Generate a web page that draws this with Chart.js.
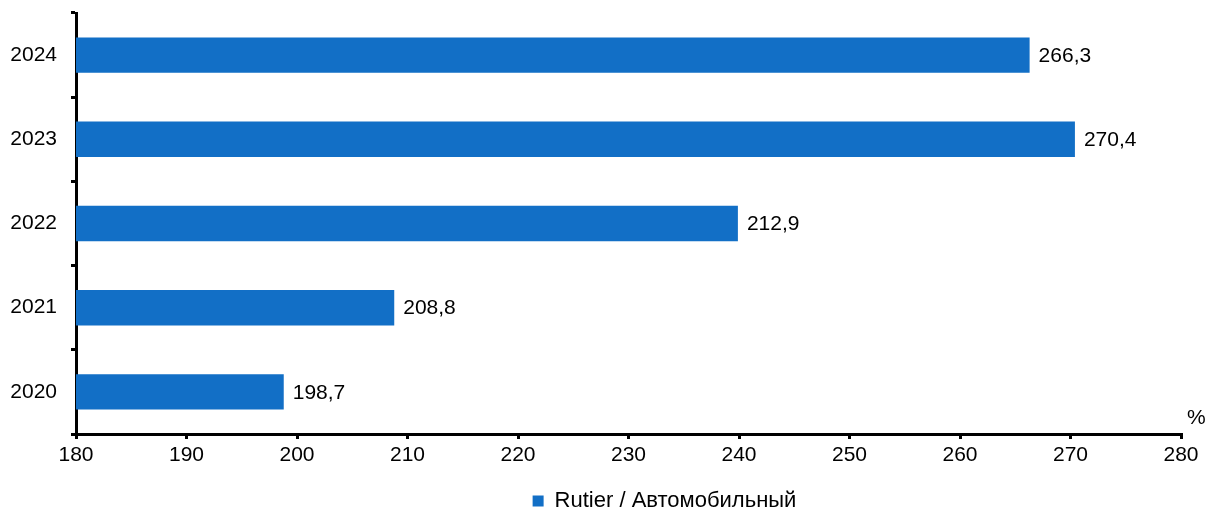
<!DOCTYPE html>
<html>
<head>
<meta charset="utf-8">
<script src="https://cdn.jsdelivr.net/npm/chart.js@4/dist/chart.umd.min.js"></script>
<style>
  html, body { margin: 0; padding: 0; background: #fff; }
  canvas { display: block; }
</style>
</head>
<body>
<canvas id="chart" width="1212" height="514" style="width:1212px;height:514px"></canvas>
<script>
// data
var years = ['2020', '2021', '2022', '2023', '2024'];
var barValues = [198.8, 208.8, 239.9, 270.4, 266.3];
var barLabels = ['198,7', '208,8', '212,9', '270,4', '266,3'];
var xTicks = [180, 190, 200, 210, 220, 230, 240, 250, 260, 270, 280];
var seriesName = 'Rutier / Автомобильный';
var unitLabel = '%';

var FONT = "'Liberation Sans', Arial, sans-serif";
var FSIZE = 21;
var BLUE = '#126fc6';

// value labels at the end of each bar + the % sign
var labelsPlugin = {
    id: 'barLabels',
    beforeDraw: function(chart) {
        // legend sits a bit right of centre in the original
        chart.legend.left += 74;
        chart.legend.right += 74;
    },
    afterDatasetsDraw: function(chart) {
        var ctx = chart.ctx;
        var meta = chart.getDatasetMeta(0);
        ctx.save();
        ctx.font = FSIZE + 'px ' + FONT;
        ctx.fillStyle = '#000';
        ctx.textBaseline = 'middle';
        ctx.textAlign = 'left';
        meta.data.forEach(function(bar, i) {
            ctx.fillText(barLabels[i], bar.x + 9, bar.y + 1);
        });
        ctx.fillText(unitLabel, chart.chartArea.right + 6, chart.chartArea.bottom - 16);
        ctx.restore();
    }
};

var ctx = document.getElementById('chart').getContext('2d');
var chart = new Chart(ctx, {
    type: 'bar',
    data: {
        labels: years,
        datasets: [{
            label: seriesName,
            data: barValues,
            backgroundColor: BLUE,
            borderWidth: 0,
            barPercentage: 0.42,
            categoryPercentage: 1.0
        }]
    },
    options: {
        indexAxis: 'y',
        responsive: false,
        animation: false,
        devicePixelRatio: 1,
        layout: { padding: { top: 13, right: 31, left: 0, bottom: -8 } },
        plugins: {
            legend: {
                display: true,
                position: 'bottom',
                labels: {
                    font: { family: FONT, size: 22 },
                    color: '#000',
                    boxWidth: 11,
                    boxHeight: 11,
                    padding: 3
                }
            },
            tooltip: { enabled: false }
        },
        scales: {
            x: {
                min: 180,
                max: 280,
                afterBuildTicks: function(scale) {
                    scale.ticks = xTicks.map(function(v) { return { value: v }; });
                },
                grid: {
                    drawOnChartArea: false,
                    drawTicks: true,
                    tickLength: 5,
                    color: '#000',
                    lineWidth: 3
                },
                border: { display: true, color: '#000', width: 3 },
                ticks: {
                    font: { family: FONT, size: FSIZE },
                    color: '#000',
                    padding: 4
                },
                afterFit: function(scale) { scale.height = 53; }
            },
            y: {
                reverse: true,
                grid: {
                    offset: true,
                    drawOnChartArea: false,
                    drawTicks: true,
                    tickLength: 5,
                    color: '#000',
                    lineWidth: 3
                },
                border: { display: true, color: '#000', width: 3 },
                ticks: {
                    font: { family: FONT, size: FSIZE },
                    color: '#000',
                    padding: 14
                },
                afterFit: function(scale) {
                    scale.width = 76;
                    scale.paddingTop = 0;
                    scale.paddingBottom = 0;
                }
            }
        }
    },
    plugins: [labelsPlugin]
});
</script>
</body>
</html>
